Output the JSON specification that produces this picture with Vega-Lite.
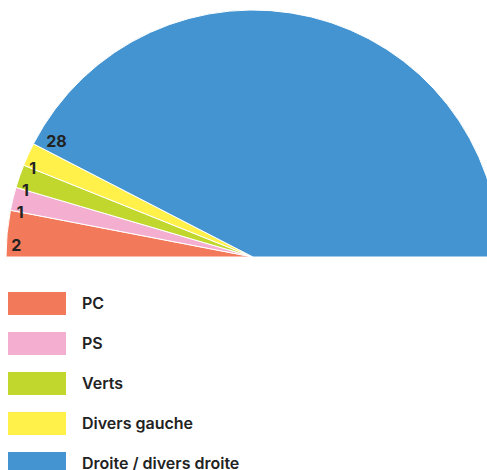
{
  "$schema": "https://vega.github.io/schema/vega-lite/v6.json",
  "width": 506,
  "height": 514,
  "autosize": "none",
  "padding": 0,
  "background": "white",
  "config": {"view": {"stroke": null}},
  "data": {"values": [
    {"party": "PC", "seats": 2, "idx": 1},
    {"party": "PS", "seats": 1, "idx": 2},
    {"party": "Verts", "seats": 1, "idx": 3},
    {"party": "Divers gauche", "seats": 1, "idx": 4},
    {"party": "Droite / divers droite", "seats": 28, "idx": 5}
  ]},
  "transform": [{"stack": "seats", "sort": [{"field": "idx"}], "groupby": [], "as": ["s0", "s1"]}],
  "layer": [
    {
      "mark": {"type": "arc", "outerRadius": 247, "stroke": "white", "strokeWidth": 1},
      "encoding": {
        "theta": {"field": "s0", "type": "quantitative", "scale": {"domain": [0, 33], "range": [-1.5708, 1.5708]}},
        "theta2": {"field": "s1"},
        "color": {
          "field": "party", "type": "nominal",
          "scale": {
            "domain": ["PC", "PS", "Verts", "Divers gauche", "Droite / divers droite"],
            "range": ["#f27a5a", "#f3aed0", "#c1d72e", "#fff04a", "#4494d1"]
          },
          "legend": {
            "title": null, "orient": "none", "legendX": 22.5, "legendY": 289,
            "symbolType": "M-2,-0.794H2V0.794H-2Z", "symbolSize": 841, "symbolStrokeWidth": 0,
            "labelFont": "Inter", "labelFontSize": 16, "labelFontWeight": 600, "labelColor": "#222222",
            "labelOffset": 30.5, "rowPadding": 13, "padding": 0, "labelLimit": 400
          }
        }
      }
    },
    {
      "transform": [{"filter": "datum.idx < 5"}],
      "mark": {"type": "text", "radius": 237, "thetaOffset": -0.05, "font": "Inter", "fontSize": 16, "fontWeight": 700, "color": "#222222", "align": "center", "baseline": "middle"},
      "encoding": {
        "theta": {"field": "seats", "type": "quantitative", "stack": true},
        "order": {"field": "idx"},
        "text": {"field": "seats", "type": "quantitative"}
      }
    },
    {
      "transform": [{"filter": "datum.idx == 5"}],
      "mark": {"type": "text", "radius": 228, "thetaOffset": 0.055, "font": "Inter", "fontSize": 16, "fontWeight": 700, "color": "#222222", "align": "center", "baseline": "middle"},
      "encoding": {
        "theta": {"field": "s0", "type": "quantitative"},
        "text": {"field": "seats", "type": "quantitative"}
      }
    }
  ]
}
